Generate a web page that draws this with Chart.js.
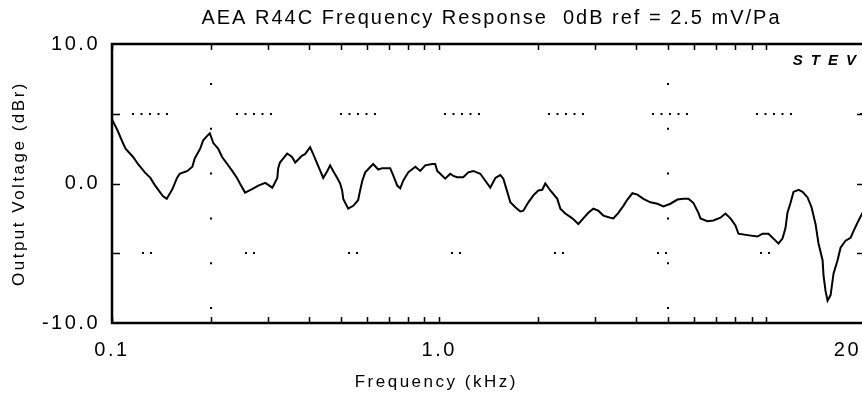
<!DOCTYPE html>
<html>
<head>
<meta charset="utf-8">
<script src="https://cdn.jsdelivr.net/npm/chart.js@4/dist/chart.umd.min.js"></script>
<style>
  html, body { margin: 0; padding: 0; background: #fff; overflow: hidden; }
  #wrap { position: relative; width: 880px; height: 395px; }
</style>
</head>
<body>
<div id="wrap"><canvas id="c" width="880" height="395"></canvas></div>
<script>
// ---------- data ----------
const chartTitle = 'AEA R44C Frequency Response  0dB ref = 2.5 mV/Pa';
const xAxisTitle = 'Frequency (kHz)';
const yAxisTitle = 'Output Voltage (dBr)';
const logoText = 'STEV';

const freqKHz = [
  0.100, 0.104, 0.108, 0.110, 0.116, 0.120, 0.126, 0.131, 0.135, 0.143,
  0.147, 0.153, 0.158, 0.161, 0.170, 0.176, 0.179, 0.186, 0.190, 0.195,
  0.199, 0.204, 0.211, 0.217, 0.225, 0.233, 0.241, 0.246, 0.255, 0.268,
  0.280, 0.294, 0.309, 0.320, 0.322, 0.326, 0.343, 0.355, 0.363, 0.381,
  0.389, 0.403, 0.412, 0.424, 0.433, 0.442, 0.455, 0.464, 0.474, 0.488,
  0.498, 0.505, 0.509, 0.527, 0.546, 0.565, 0.573, 0.582, 0.594, 0.628,
  0.651, 0.670, 0.708, 0.723, 0.744, 0.760, 0.776, 0.804, 0.845, 0.875,
  0.906, 0.952, 0.972, 0.986, 1.007, 1.043, 1.080, 1.104, 1.135, 1.184,
  1.227, 1.271, 1.335, 1.383, 1.432, 1.484, 1.537, 1.570, 1.614, 1.649,
  1.708, 1.769, 1.807, 1.872, 1.939, 2.008, 2.065, 2.109, 2.185, 2.295,
  2.344, 2.428, 2.551, 2.661, 2.756, 2.855, 2.957, 3.063, 3.173, 3.333,
  3.405, 3.527, 3.653, 3.758, 3.893, 4.032, 4.206, 4.419, 4.642, 4.842,
  5.087, 5.343, 5.575, 5.774, 5.982, 6.194, 6.283, 6.600, 6.885, 7.233,
  7.492, 7.760, 8.038, 8.209, 8.749, 9.387, 9.723, 10.14, 10.50, 10.88,
  11.19, 11.43, 11.59, 11.84, 12.09, 12.53, 12.89, 13.35, 13.73, 14.12,
  14.42, 14.84, 14.94, 15.15, 15.37, 15.70, 16.03, 16.49, 16.84, 17.44,
  18.07, 18.46, 18.98, 19.66
];
const responseDb = [
  4.6, 3.8, 2.9, 2.5, 1.9, 1.4, 0.8, 0.4, -0.1, -0.9,
  -1.1, -0.4, 0.4, 0.7, 0.9, 1.2, 1.8, 2.5, 3.1, 3.4,
  3.6, 2.9, 2.5, 1.9, 1.4, 0.9, 0.4, 0.0, -0.65, -0.4,
  -0.15, 0.05, -0.3, 0.4, 1.1, 1.5, 2.15, 1.9, 1.5, 2.0,
  2.1, 2.6, 2.1, 1.4, 0.9, 0.4, 0.9, 1.3, 0.9, 0.4,
  0.0, -0.5, -1.1, -1.8, -1.6, -1.2, -0.5, 0.2, 0.8, 1.4,
  1.0, 1.1, 1.1, 0.6, -0.15, -0.35, 0.2, 0.8, 1.2, 0.9,
  1.3, 1.4, 1.4, 0.9, 0.7, 0.35, 0.7, 0.55, 0.45, 0.45,
  0.8, 0.9, 0.7, 0.2, -0.3, 0.4, 0.6, 0.35, -0.6, -1.35,
  -1.7, -2.0, -1.95, -1.35, -0.85, -0.5, -0.45, 0.0, -0.5, -1.1,
  -1.8, -2.15, -2.5, -2.9, -2.5, -2.1, -1.8, -1.95, -2.3, -2.45,
  -2.5, -2.1, -1.6, -1.15, -0.7, -0.8, -1.1, -1.35, -1.45, -1.65,
  -1.45, -1.15, -1.1, -1.1, -1.4, -2.1, -2.5, -2.7, -2.65, -2.45,
  -2.15, -2.5, -3.0, -3.6, -3.7, -3.8, -3.6, -3.6, -3.95, -4.3,
  -3.95, -3.2, -2.1, -1.4, -0.6, -0.45, -0.6, -1.0, -1.7, -2.9,
  -4.3, -5.5, -6.6, -7.7, -8.4, -8.0, -6.45, -5.5, -4.6, -4.1,
  -3.9, -3.4, -2.8, -2.1
];

const xMin = 0.1, xMax = 20;
const yMin = -10, yMax = 10;
const yTickValues = [-10, -5, 0, 5, 10];
const yTickLabels = { '10': '10.0', '0': '0.0', '-10': '-10.0' };
const yInnerTickValues = [-5, 0, 5];
const xTickMarks = [0.1, 0.2, 0.3, 0.4, 0.5, 0.6, 0.7, 0.8, 0.9,
                    1, 2, 3, 4, 5, 6, 7, 8, 9, 10, 20];
const xTickLabelValues = [0.1, 1, 20];
const xTickLabelTexts = ['0.1', '1.0', '20'];
const hGridValues = [5, -5];
const vGridValues = [0.2, 5];

// ---------- chart ----------
const FONT = '"Liberation Sans", Arial, sans-serif';
const SPACING = '2.5px';
Chart.defaults.font.family = FONT;
Chart.defaults.color = '#000';

const spacingPlugin = {
  id: 'spacing',
  beforeLayout(chart) { chart.ctx.letterSpacing = SPACING; },
  beforeDraw(chart) { chart.ctx.letterSpacing = SPACING; }
};

const decorPlugin = {
  id: 'decor',
  beforeDatasetsDraw(chart) {
    const { ctx, chartArea: a, scales: { x, y } } = chart;
    ctx.save();
    ctx.strokeStyle = '#000';
    ctx.lineWidth = 2;
    ctx.lineCap = 'butt';
    // horizontal dotted reference lines
    hGridValues.forEach((v, i) => {
      const py = Math.round(y.getPixelForValue(v));
      if (i === 0) { ctx.setLineDash([2, 6.5, 2, 6.5, 2, 6.5, 2, 6.5, 2, 68]); ctx.lineDashOffset = 84; }
      else { ctx.setLineDash([2, 6, 2, 93]); ctx.lineDashOffset = 73; }
      ctx.beginPath(); ctx.moveTo(a.left, py); ctx.lineTo(a.right, py); ctx.stroke();
    });
    // vertical dotted reference lines
    vGridValues.forEach(v => {
      const px = Math.round(x.getPixelForValue(v));
      ctx.setLineDash([2, 42.8]); ctx.lineDashOffset = 5.8;
      ctx.beginPath(); ctx.moveTo(px, a.top); ctx.lineTo(px, a.bottom); ctx.stroke();
    });
    ctx.restore();
  },
  afterDatasetsDraw(chart) {
    const { ctx, chartArea: a, scales: { x, y } } = chart;
    ctx.save();
    ctx.strokeStyle = '#000';
    ctx.setLineDash([]);
    // inner tick marks
    ctx.lineWidth = 1.5;
    ctx.beginPath();
    xTickMarks.forEach(v => {
      const px = Math.round(x.getPixelForValue(v)) + 0.5;
      ctx.moveTo(px, a.top); ctx.lineTo(px, a.top + 6);
      ctx.moveTo(px, a.bottom); ctx.lineTo(px, a.bottom - 6);
    });
    yInnerTickValues.forEach(v => {
      const py = Math.round(y.getPixelForValue(v)) + 0.5;
      ctx.moveTo(a.left, py); ctx.lineTo(a.left + 8, py);
      ctx.moveTo(a.right, py); ctx.lineTo(a.right - 8, py);
    });
    ctx.stroke();
    // frame
    ctx.lineWidth = 2.5;
    ctx.strokeRect(a.left, a.top, a.right - a.left, a.bottom - a.top);

    ctx.fillStyle = '#000';
    ctx.textBaseline = 'middle';
    ctx.textAlign = 'center';
    // chart title (centred over the plot area, as in the reference)
    ctx.letterSpacing = '2px';
    ctx.font = '20px ' + FONT;
    ctx.fillText(chartTitle, (a.left + a.right) / 2 + 3, 18);

    // x tick labels
    ctx.letterSpacing = SPACING;
    ctx.font = '20px ' + FONT;
    xTickLabelValues.forEach((v, i) => {
      const t = xTickLabelTexts[i];
      const w = ctx.measureText(t).width;
      let px = x.getPixelForValue(v);
      px = Math.min(px, 861 - w / 2);
      ctx.fillText(t, px, a.bottom + 27);
    });
    // x axis title
    ctx.font = '17px ' + FONT;
    ctx.fillText(xAxisTitle, x.getPixelForValue(1) - 3, a.bottom + 59);
    // logo
    ctx.font = 'italic bold 15px ' + FONT;
    ctx.letterSpacing = '8px';
    ctx.textAlign = 'right';
    ctx.fillText(logoText, 864, a.top + 17);
    ctx.restore();
  }
};

new Chart(document.getElementById('c'), {
  type: 'line',
  data: {
    datasets: [{
      data: freqKHz.map((f, i) => ({ x: f, y: responseDb[i] })),
      borderColor: '#000',
      borderWidth: 2,
      pointRadius: 0,
      tension: 0,
      fill: false
    }]
  },
  options: {
    responsive: false,
    devicePixelRatio: 1,
    animation: false,
    layout: { padding: { left: 0, right: 15, top: 44, bottom: 0 } },
    plugins: {
      legend: { display: false },
      tooltip: { enabled: false },
      title: { display: false }
    },
    scales: {
      x: {
        type: 'logarithmic',
        min: xMin, max: xMax,
        grid: { display: false, drawTicks: false },
        border: { display: false },
        ticks: { display: false },
        afterFit(s) { s.height = 72; }
      },
      y: {
        type: 'linear',
        min: yMin, max: yMax,
        grid: { display: false, drawTicks: false },
        border: { display: false },
        afterBuildTicks(s) { s.ticks = yTickValues.map(v => ({ value: v })); },
        ticks: {
          font: { size: 20, family: FONT },
          color: '#000',
          padding: 12,
          callback: (v) => (yTickLabels[String(v)] !== undefined ? yTickLabels[String(v)] : '')
        },
        title: {
          display: true,
          text: yAxisTitle,
          color: '#000',
          font: { size: 17, family: FONT },
          padding: { top: 9, bottom: 0 }
        },
        afterFit(s) { s.width = 112; }
      }
    }
  },
  plugins: [spacingPlugin, decorPlugin]
});
</script>
</body>
</html>
